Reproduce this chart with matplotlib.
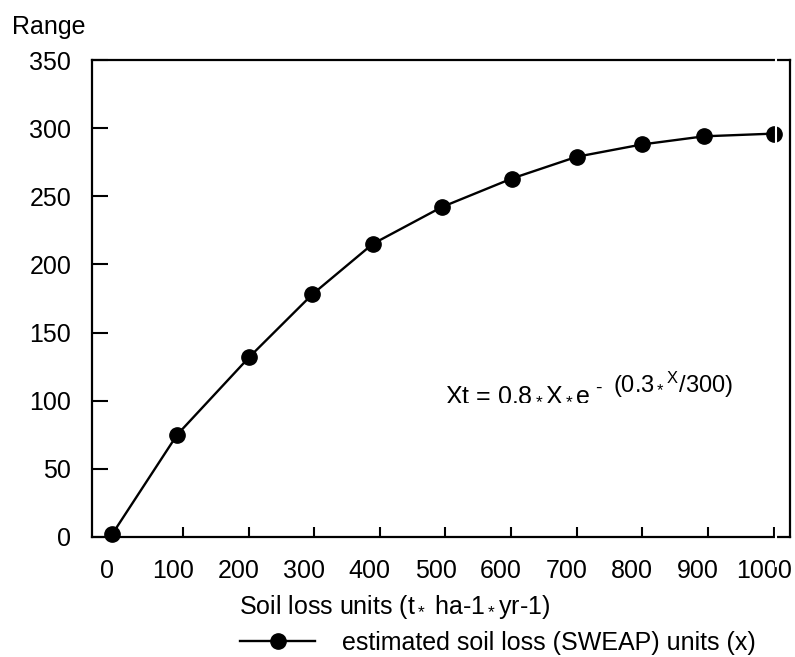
import matplotlib
matplotlib.use("Agg")
import matplotlib.pyplot as plt
from matplotlib.transforms import ScaledTranslation

plt.rcParams['font.family'] = ['Liberation Sans', 'DejaVu Sans']
plt.rcParams['mathtext.fontset'] = 'custom'
plt.rcParams['mathtext.rm'] = 'Liberation Sans'
plt.rcParams['mathtext.it'] = 'Liberation Sans'

# values
soil_loss_x = [-8, 91, 201, 297, 389, 494, 601, 700, 799, 894, 1001]
range_y = [2, 75, 132, 178, 215, 242, 263, 279, 288, 294, 296]
x_ticks = [0, 100, 200, 300, 400, 500, 600, 700, 800, 900, 1000]
y_ticks = [0, 50, 100, 150, 200, 250, 300, 350]
series_name = "estimated soil loss (SWEAP) units (x)"

fs = 18
fig = plt.figure(figsize=(7.95, 6.57), dpi=100)
ax = fig.add_axes([92/795, 1-537/657, (790-92)/795, (537-60)/657])

ax.plot(soil_loss_x, range_y, color='black', lw=1.7, marker='o', ms=11,
        label=series_name, clip_on=False, zorder=3)

ax.set_xlim(-38.7, 1025)
ax.set_ylim(0, 350)
ax.set_xticks(x_ticks)
ax.set_yticks(y_ticks)
ax.tick_params(axis='x', direction='in', length=7.2, width=1.5, pad=15.5, labelsize=fs)
ax.tick_params(axis='y', direction='in', length=11.5, width=1.5, pad=15, labelsize=fs)
for sp in ax.spines.values():
    sp.set_linewidth(1.6)

# tick labels sit a little left of their ticks in the original
shift = ScaledTranslation(-10/100, 0, fig.dpi_scale_trans)
for lab in ax.get_xticklabels():
    lab.set_transform(lab.get_transform() + shift)

# white stripe that cuts the right end of the chart
ax.axvline(1004, ymin=-0.06, ymax=1.01, color='white', lw=1.5, clip_on=False, zorder=5)

ax.set_xlabel(r"Soil loss units (t$_*$ ha-1$_*$yr-1)", fontsize=fs, va='center')
ax.xaxis.set_label_coords(0.434, -0.147)
fig.text(12/795, 1-27/657, "Range", fontsize=fs, ha='left', va='center')

# formula
t1 = ax.text(445/795, 1-400/657, r"Xt = 0.8$_*$X$_*$e", fontsize=fs,
             transform=fig.transFigure, va='baseline', ha='left')
ax.annotate("-", xy=(1, 0), xycoords=t1, xytext=(3, 9), textcoords='offset points',
            fontsize=14, va='baseline')
ax.annotate(r"(0.3$_*{}^{X}$/300)", xy=(1, 0), xycoords=t1, xytext=(16, 8.6),
            textcoords='offset points', fontsize=17, va='baseline')

ax.legend(loc='center left', bbox_to_anchor=(240/795, 1-643/657),
          bbox_transform=fig.transFigure, frameon=False, fontsize=fs,
          handlelength=3.0, handletextpad=1.1, borderpad=0, borderaxespad=0)

fig.savefig("out.png", dpi=100)
